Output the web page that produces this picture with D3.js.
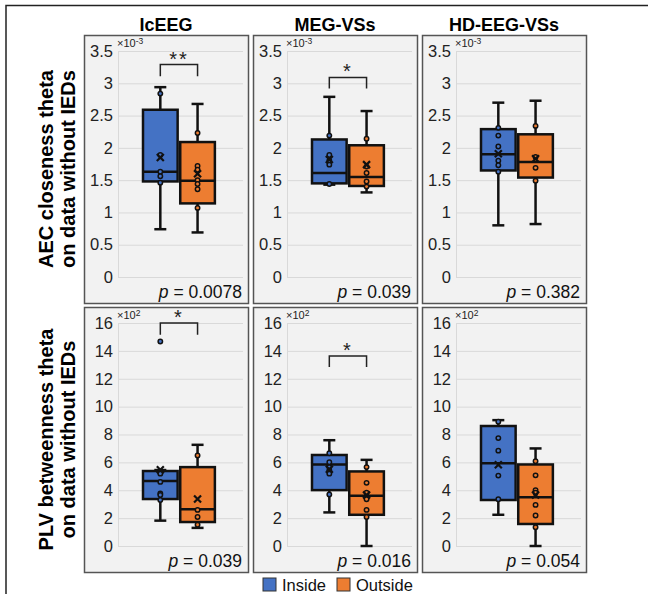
<!DOCTYPE html>
<html>
<head>
<meta charset="utf-8">
<script src="https://cdn.jsdelivr.net/npm/d3@7"></script>
<style>
  body { margin: 0; background: #fff; }
  svg { display: block; font-family: "Liberation Sans", Arial, sans-serif; }
</style>
</head>
<body>
<div id="chart"></div>
<script>
// ---- data ----
var columns = ["IcEEG", "MEG-VSs", "HD-EEG-VSs"];
var groups = ["Inside", "Outside"];
var rowLabels = [["AEC closeness theta", "on data without IEDs"],
                 ["PLV betweenness theta", "on data without IEDs"]];
var aecTicks = [0, 0.5, 1, 1.5, 2, 2.5, 3, 3.5];
var plvTicks = [0, 2, 4, 6, 8, 10, 12, 14, 16];
var aecExp = "-3", plvExp = "2";

// box stats per column: [whisker low, Q1, median, Q3, whisker high]
var aecInStats  = [[0.74, 1.48, 1.63, 2.59, 2.94], [1.43, 1.45, 1.61, 2.13, 2.79], [0.80, 1.65, 1.90, 2.29, 2.70]];
var aecOutStats = [[0.69, 1.14, 1.49, 2.09, 2.68], [1.31, 1.41, 1.55, 2.04, 2.57], [0.82, 1.54, 1.78, 2.21, 2.73]];
var aecInMean  = [1.85, 1.82, 1.91];
var aecOutMean = [1.60, 1.74, 1.83];
var aecInPoints  = [[2.84, 1.89, 1.63, 1.56, 1.46], [2.19, 1.89, 1.80, 1.74, 1.44], [2.31, 2.19, 2.02, 1.80, 1.73, 1.63]];
var aecOutPoints = [[2.23, 1.72, 1.66, 1.50, 1.44, 1.36, 1.07], [2.14, 1.71, 1.61, 1.48, 1.40], [2.34, 1.86, 1.69, 1.49]];

var plvInStats  = [[1.82, 3.37, 4.67, 5.38, 5.45], [2.41, 4.01, 5.85, 6.53, 7.59], [2.24, 3.30, 5.94, 8.61, 9.03]];
var plvOutStats = [[1.30, 1.72, 2.64, 5.66, 7.26], [0, 2.24, 3.61, 5.35, 6.18], [0, 1.58, 3.49, 5.85, 7.00]];
var plvInMean  = [5.47, 5.50, 5.83];
var plvOutMean = [3.37, 3.66, 3.66];
var plvInPoints  = [[14.67, 5.30, 5.19, 4.60, 3.77, 3.66, 3.30], [6.65, 6.01, 5.66, 5.42, 5.19, 3.70], [8.92, 7.74, 6.84, 5.05, 3.35]];
var plvOutPoints = [[6.49, 2.59, 2.08, 1.53], [5.66, 4.53, 3.82, 3.35, 2.59, 2.08], [6.08, 5.07, 4.01, 3.82, 2.95, 2.19, 1.34]];

var aecP = ["0.0078", "0.039", "0.382"];
var plvP = ["0.039", "0.016", "0.054"];
var aecStars = ["**", "*", ""];
var plvStars = ["*", "*", ""];
// significance bracket: [top, leg end]
var aecBracket = [[3.29, 3.11], [3.09, 2.92], null];
var plvBracket = [[16.0, 15.15], [13.63, 12.85], null];

var colors = { Inside: "#4472c4", Outside: "#ed7d31" };

// ---- layout ----
var W = 648, H = 594;
var panelX = [84, 253, 422], panelW = 164;
var panelY = [35, 307], panelH = [268, 265];
var inset = {top: 16, right: 5, bottom: 26, left: 34};

var svg = d3.select("#chart").append("svg")
  .attr("width", W).attr("height", H);

// outer frame (only left and top edges fall inside the picture)
svg.append("path")
  .attr("d", "M6," + H + "V5.5H" + W)
  .attr("fill", "none").attr("stroke", "#222").attr("stroke-width", 1.5);

// column titles
columns.forEach(function(c, i) {
  svg.append("text")
    .attr("x", panelX[i] + panelW / 2)
    .attr("y", 31)
    .attr("text-anchor", "middle")
    .style("font-size", "18px").style("font-weight", "bold")
    .text(c);
});

var rows = [
  {ticks: aecTicks, exp: aecExp, inS: aecInStats, outS: aecOutStats, inM: aecInMean, outM: aecOutMean,
   inP: aecInPoints, outP: aecOutPoints, p: aecP, stars: aecStars, br: aecBracket},
  {ticks: plvTicks, exp: plvExp, inS: plvInStats, outS: plvOutStats, inM: plvInMean, outM: plvOutMean,
   inP: plvInPoints, outP: plvOutPoints, p: plvP, stars: plvStars, br: plvBracket}
];

rows.forEach(function(r, ri) {
  // row label
  var cy = panelY[ri] + panelH[ri] / 2;
  var lab = svg.append("text")
    .attr("transform", "translate(58," + cy + ") rotate(-90)")
    .attr("text-anchor", "middle")
    .style("font-size", "20px").style("font-weight", "bold");
  lab.append("tspan").attr("x", 0).attr("dy", "-0.25em").text(rowLabels[ri][0]);
  lab.append("tspan").attr("x", 0).attr("dy", "1.1em").text(rowLabels[ri][1]);

  columns.forEach(function(c, ci) {
    var g = svg.append("g")
      .attr("transform", "translate(" + panelX[ci] + "," + panelY[ri] + ")");
    g.append("rect")
      .attr("x", 0.5).attr("y", 0.5)
      .attr("width", panelW).attr("height", panelH[ri])
      .attr("fill", "#f2f2f2").attr("stroke", "#555").attr("stroke-width", 1.5);

    var pw = panelW - inset.left - inset.right;
    var ph = panelH[ri] - inset.top - inset.bottom;
    var plot = g.append("g").attr("transform", "translate(" + inset.left + "," + inset.top + ")");

    var y = d3.scaleLinear()
      .domain([0, d3.max(r.ticks)])
      .range([ph, 0]);
    var x = d3.scaleBand()
      .domain(groups)
      .range([pw * 0.2, pw * 0.775])
      .paddingInner(0.07);

    // grid
    plot.append("g")
      .call(d3.axisLeft(y).tickValues(r.ticks).tickSize(-pw).tickFormat(""))
      .call(function(a) {
        a.select(".domain").attr("stroke", "#d9d9d9");
        a.selectAll(".tick line").attr("stroke", "#d9d9d9");
      });
    // tick labels
    plot.append("g")
      .call(d3.axisLeft(y).tickValues(r.ticks).tickSize(0).tickPadding(5).tickFormat(d3.format("")))
      .call(function(a) {
        a.select(".domain").remove();
        a.selectAll("text").attr("fill", "#222")
          .style("font-size", "16.5px").style("font-family", "Liberation Sans, Arial, sans-serif");
      });
    // exponent
    var ex = plot.append("text")
      .attr("x", -1).attr("y", -4)
      .style("font-size", "11px").attr("fill", "#222");
    ex.append("tspan").text("\u00d710");
    ex.append("tspan").attr("dy", "-3.5").style("font-size", "8.5px").text(r.exp);

    // boxes
    groups.forEach(function(grp) {
      var s = grp === "Inside" ? r.inS[ci] : r.outS[ci];
      var m = grp === "Inside" ? r.inM[ci] : r.outM[ci];
      var pts = grp === "Inside" ? r.inP[ci] : r.outP[ci];
      var bw = x.bandwidth();
      var cx = x(grp) + bw / 2;
      var bg = plot.append("g");
      // whiskers
      bg.append("line").attr("x1", cx).attr("x2", cx).attr("y1", y(s[0])).attr("y2", y(s[1]))
        .attr("stroke", "#111").attr("stroke-width", 2.5);
      bg.append("line").attr("x1", cx).attr("x2", cx).attr("y1", y(s[3])).attr("y2", y(s[4]))
        .attr("stroke", "#111").attr("stroke-width", 2.5);
      [s[0], s[4]].forEach(function(v) {
        bg.append("line").attr("x1", cx - 6).attr("x2", cx + 6).attr("y1", y(v)).attr("y2", y(v))
          .attr("stroke", "#111").attr("stroke-width", 2.5);
      });
      // box
      bg.append("rect")
        .attr("x", x(grp)).attr("width", bw)
        .attr("y", y(s[3])).attr("height", y(s[1]) - y(s[3]))
        .attr("fill", colors[grp]).attr("stroke", "#111").attr("stroke-width", 2.5);
      bg.append("line").attr("x1", x(grp)).attr("x2", x(grp) + bw)
        .attr("y1", y(s[2])).attr("y2", y(s[2]))
        .attr("stroke", "#111").attr("stroke-width", 2.5);
      // points
      bg.selectAll("circle.pt").data(pts).enter().append("circle")
        .attr("class", "pt")
        .attr("cx", cx).attr("cy", function(d) { return y(d); })
        .attr("r", 2.2)
        .attr("fill", colors[grp]).attr("stroke", "#111").attr("stroke-width", 1.5);
      // mean marker
      var my = y(m), k = 3.5;
      bg.append("path")
        .attr("d", "M" + (cx - k) + "," + (my - k) + "L" + (cx + k) + "," + (my + k) +
                   "M" + (cx - k) + "," + (my + k) + "L" + (cx + k) + "," + (my - k))
        .attr("stroke", "#111").attr("stroke-width", 2.2);
    });

    // significance bracket
    if (r.br[ci]) {
      var x1 = x("Inside") + x.bandwidth() / 2, x2 = x("Outside") + x.bandwidth() / 2;
      var bt = y(r.br[ci][0]), bl = y(r.br[ci][1]);
      plot.append("path")
        .attr("d", "M" + x1 + "," + bl + "V" + bt + "H" + x2 + "V" + bl)
        .attr("fill", "none").attr("stroke", "#222").attr("stroke-width", 1.5);
      plot.append("text")
        .attr("x", (x1 + x2) / 2).attr("y", bt + 1)
        .attr("text-anchor", "middle")
        .style("font-size", "20px").style("letter-spacing", "2px").attr("fill", "#222")
        .text(r.stars[ci]);
    }

    // p value
    var pt = plot.append("text")
      .attr("x", pw - 1).attr("y", ph + 21)
      .attr("text-anchor", "end")
      .style("font-size", "17.5px").attr("fill", "#111");
    pt.append("tspan").style("font-style", "italic").text("p");
    pt.append("tspan").text(" = " + r.p[ci]);
  });
});

// legend
var leg = svg.append("g").attr("transform", "translate(263,578)");
groups.forEach(function(grp, i) {
  var off = i === 0 ? 0 : 74;
  leg.append("rect").attr("x", off).attr("y", 0).attr("width", 13).attr("height", 13)
    .attr("fill", colors[grp]).attr("stroke", "#333").attr("stroke-width", 1);
  leg.append("text").attr("x", off + 19).attr("y", 12.5)
    .style("font-size", "16.5px").attr("fill", "#111")
    .text(grp);
});
</script>
</body>
</html>
